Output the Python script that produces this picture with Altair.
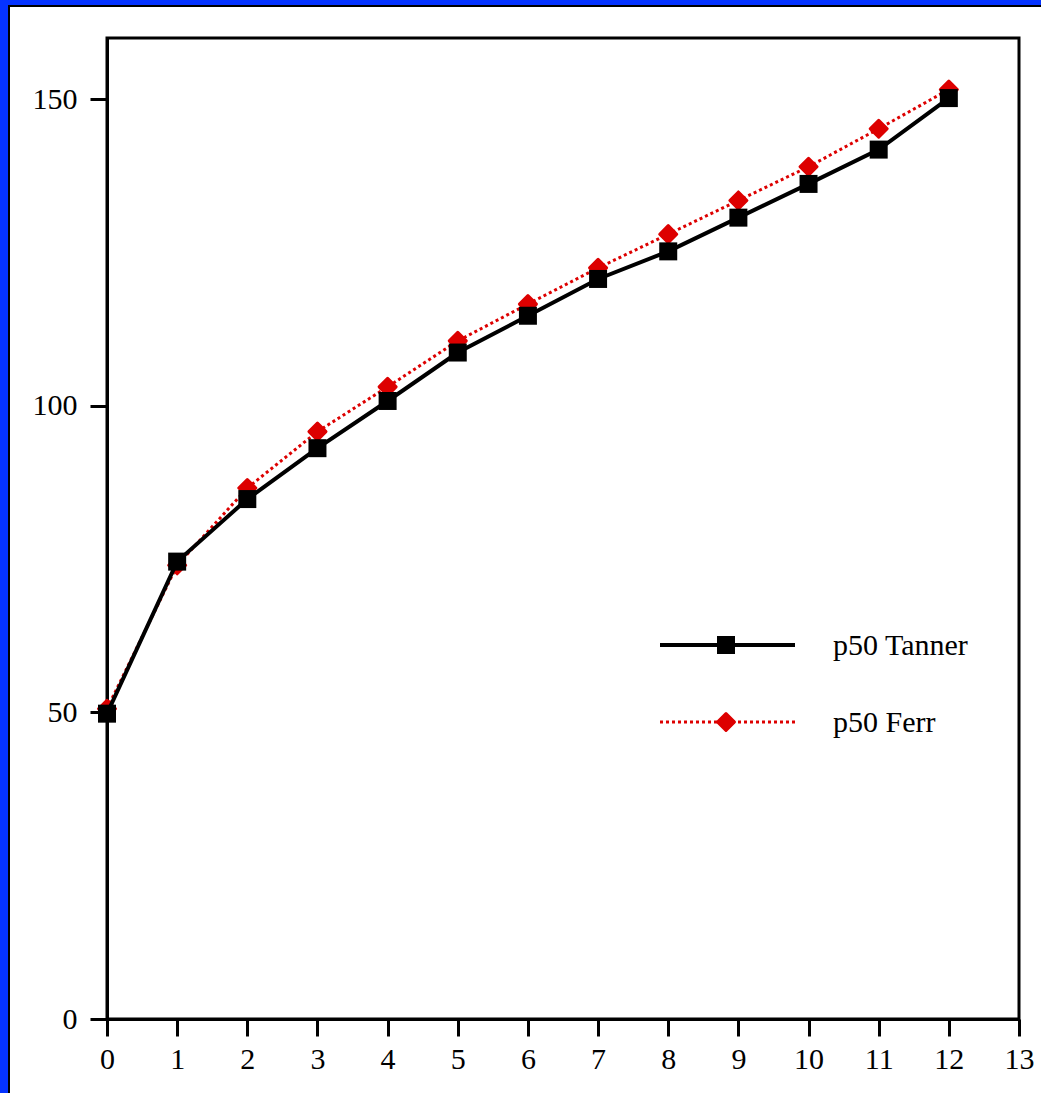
import altair as alt
import pandas as pd

# Median growth reference values (p50) by age
ages = list(range(13))
tanner = [49.8, 74.6, 84.8, 93.1, 100.8, 108.7, 114.7, 120.7, 125.2, 130.7, 136.2, 141.8, 150.2]
ferr = [50.6, 74.0, 86.6, 95.8, 103.1, 110.6, 116.6, 122.5, 128.0, 133.5, 139.0, 145.2, 151.6]

x_ticks = list(range(14))
y_ticks = [0, 50, 100, 150]

series_names = ["p50 Tanner", "p50 Ferr"]

FONT = "Liberation Serif"
BLUE = "#0533ff"
RED = "#dd0000"

W, H = 912, 981
PAD = {"left": 107, "top": 38, "right": 22, "bottom": 74}

df = pd.DataFrame({"age": ages, "tanner": tanner, "ferr": ferr})

x_enc = alt.X(
    "age:Q",
    scale=alt.Scale(domain=[0, 13], nice=False, zero=False),
    axis=alt.Axis(values=x_ticks, title=None, format="d", labelFlush=False, labelOverlap=False),
)
y_scale = alt.Scale(domain=[0, 160], nice=False)
y_axis = alt.Axis(values=y_ticks, title=None, format="d", labelFlush=False)

base = alt.Chart(df)

ferr_line = base.mark_line(color=RED, strokeWidth=3, strokeDash=[3, 3]).encode(
    x=x_enc, y=alt.Y("ferr:Q", scale=y_scale, axis=y_axis)
)
ferr_pts = base.mark_point(
    shape="diamond", filled=True, size=290, color=RED, stroke=RED,
    strokeWidth=3, strokeJoin="round", opacity=1,
).encode(x=x_enc, y=alt.Y("ferr:Q", scale=y_scale))
tanner_line = base.mark_line(color="black", strokeWidth=4).encode(
    x=x_enc, y=alt.Y("tanner:Q", scale=y_scale)
)
tanner_pts = base.mark_point(shape="square", filled=True, size=324, color="black", opacity=1).encode(
    x=x_enc, y=alt.Y("tanner:Q", scale=y_scale)
)

# Legend entries drawn inside the plot area
one = pd.DataFrame({"k": [0]})
leg_y = [607, 684]
styles = [
    dict(color="black", width=4, dash=[1, 0], shape="square", size=324, sw=0),
    dict(color=RED, width=3, dash=[3, 3], shape="diamond", size=290, sw=3),
]
legend_layers = []
for name, ly, st in zip(series_names, leg_y, styles):
    d = pd.DataFrame({"name": [name]})
    legend_layers.append(
        alt.Chart(d).mark_rule(color=st["color"], strokeWidth=st["width"], strokeDash=st["dash"]).encode(
            x=alt.value(553), x2=alt.value(688), y=alt.value(ly)
        )
    )
    legend_layers.append(
        alt.Chart(d).mark_point(
            shape=st["shape"], filled=True, size=st["size"], color=st["color"], stroke=st["color"],
            strokeWidth=st["sw"], strokeJoin="round", opacity=1,
        ).encode(x=alt.value(619), y=alt.value(ly))
    )
    legend_layers.append(
        alt.Chart(d).mark_text(align="left", baseline="middle", font=FONT, fontSize=30, color="black").encode(
            x=alt.value(726), y=alt.value(ly + 1), text="name:N"
        )
    )

# Outer page frame: blue band with a thin black inner edge on the left and top
total_w = W + PAD["left"] + PAD["right"]
total_h = H + PAD["top"] + PAD["bottom"]
ox, oy = -PAD["left"], -PAD["top"]
frame = [
    alt.Chart(one).mark_rect(color=BLUE).encode(
        x=alt.value(ox), x2=alt.value(ox + 8), y=alt.value(oy), y2=alt.value(oy + total_h)
    ),
    alt.Chart(one).mark_rect(color=BLUE).encode(
        x=alt.value(ox), x2=alt.value(ox + total_w), y=alt.value(oy), y2=alt.value(oy + 5)
    ),
    alt.Chart(one).mark_rect(color="black").encode(
        x=alt.value(ox + 8), x2=alt.value(ox + 10), y=alt.value(oy + 5), y2=alt.value(oy + total_h)
    ),
    alt.Chart(one).mark_rect(color="black").encode(
        x=alt.value(ox + 8), x2=alt.value(ox + total_w), y=alt.value(oy + 5), y2=alt.value(oy + 7)
    ),
]

chart = (
    alt.layer(ferr_line, ferr_pts, tanner_line, tanner_pts, *legend_layers, *frame)
    .properties(
        width=W,
        height=H,
        background="white",
        padding=PAD,
        autosize=alt.AutoSizeParams(type="none"),
    )
    .configure_view(stroke="black", strokeWidth=3)
    .configure_axis(
        grid=False,
        domainColor="black",
        domainWidth=3,
        tickColor="black",
        tickWidth=3,
        tickSize=17,
        labelFont=FONT,
        labelFontSize=30,
        labelColor="black",
    )
    .configure_axisX(labelPadding=8)
    .configure_axisY(labelPadding=13)
)

chart.save("out.html", embed_options={"renderer": "svg", "actions": False})
